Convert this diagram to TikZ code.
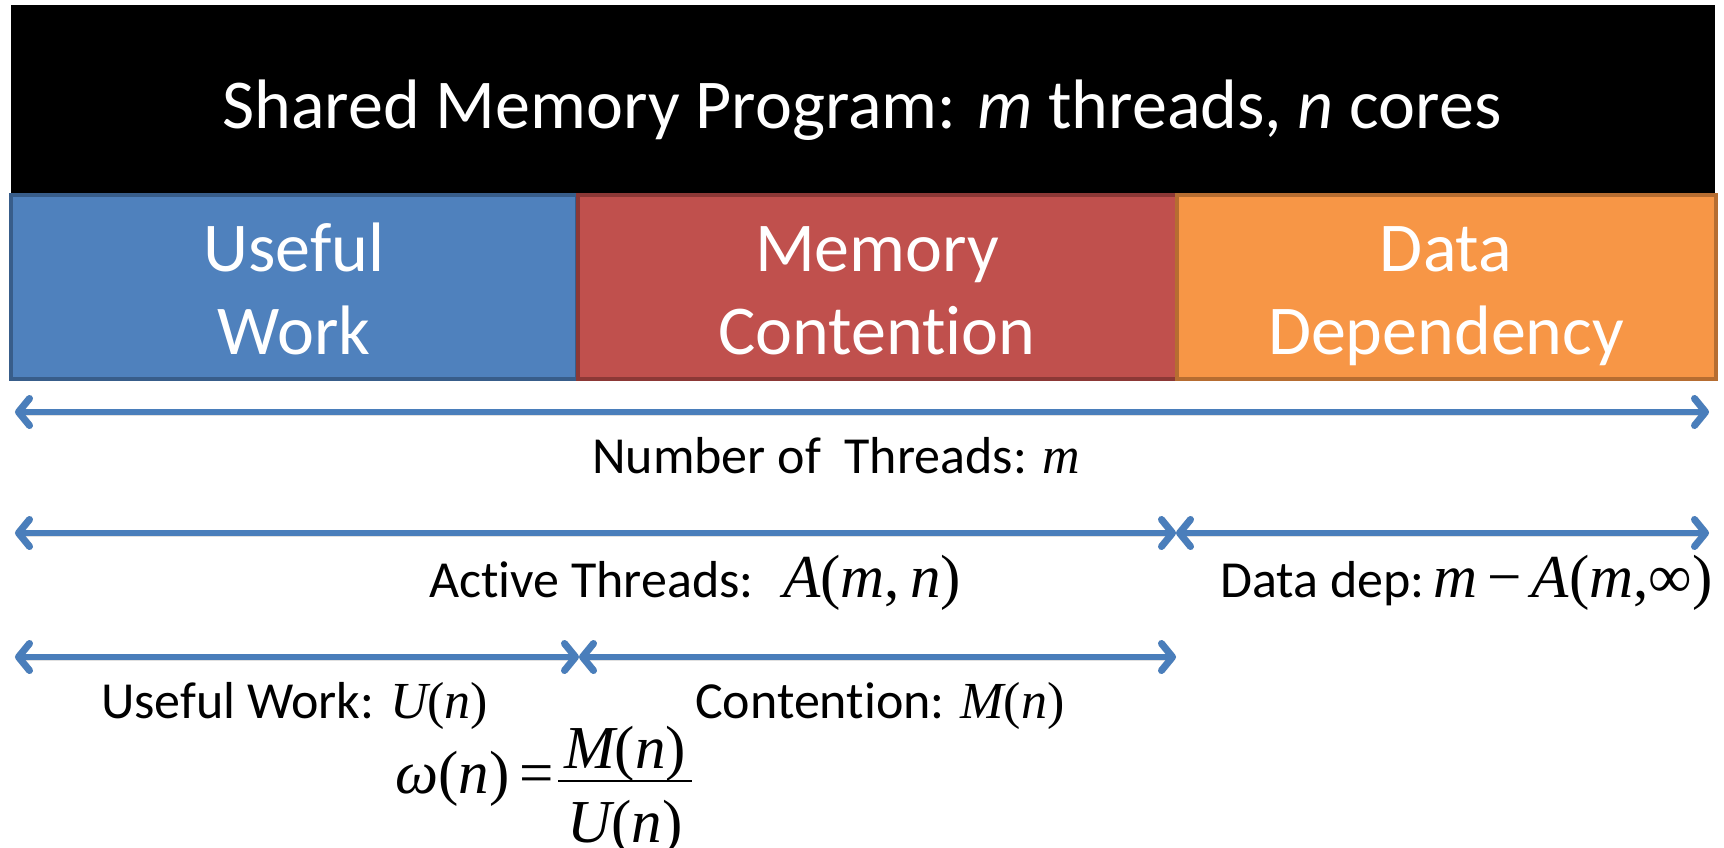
\documentclass[tikz,border=0pt]{standalone}
\usepackage{fontspec}
\setmainfont{Carlito}[Ligatures=CommonOff]
\newfontfamily\tms{Liberation Serif}
\usetikzlibrary{arrows.meta}
\definecolor{wblue}{HTML}{4F81BD}
\definecolor{wblueline}{HTML}{385D8A}
\definecolor{cred}{HTML}{C0504D}
\definecolor{credline}{HTML}{8C3836}
\definecolor{dorange}{HTML}{F79646}
\definecolor{dorangeline}{HTML}{B66D31}
\definecolor{spanblue}{HTML}{4A7EBB}
% italic and upright Times-style symbols for the formulas
\newcommand\vi[1]{{\tms\itshape #1}}
\newcommand\vr[1]{{\tms #1}}
\newcommand\msize{\fontsize{61}{70}\selectfont}
\newcommand\toprow{\rule{0pt}{66pt}}
\newcommand\botrow{\rule[-15pt]{0pt}{15pt}}
\tikzset{
  phase/.style={draw, line width=4pt, minimum height=184pt, align=center,
    text=white, font=\fontsize{70}{83}\selectfont, inner sep=0pt},
  barb/.tip={Straight Barb[length=11pt,width=27pt,line width=7pt,round]},
  span/.style={draw=spanblue, line width=6pt, barb-barb},
  spanshade/.style={draw=black!40, opacity=0.3, line width=7pt, shift={(1.5pt,-4pt)}, barb-barb},
  lbl/.style={anchor=base west, inner sep=0pt, font=\fontsize{52}{60}\selectfont},
  mth/.style={font=\msize}
}
\begin{document}
\begin{tikzpicture}[x=1pt,y=-1pt]
\useasboundingbox (0,0) rectangle (1724,848);
\fill[white] (0,0) rectangle (1724,848);

% title bar
\node[fill=black, minimum width=1704pt, minimum height=190pt, inner sep=0pt,
  anchor=north west] (title) at (11,5) {};
\node[anchor=base, text=white, font=\fontsize{70}{80}\selectfont, inner sep=0pt]
  (titletext) at (862,129) {Shared Memory Program: \textit{m} threads, \textit{n} cores};

% the three phases
\node[phase, fill=wblue, draw=wblueline, minimum width=566pt] (useful) at (294,287)
  {\toprow Useful\\Work\botrow};
\node[phase, fill=cred, draw=credline, minimum width=599pt] (memory) at (877,287)
  {\toprow Memory\\Contention\botrow};
\node[phase, fill=dorange, draw=dorangeline, minimum width=539pt] (data) at (1446,287)
  {\toprow Data\\Dependency\botrow};

% span end points
\coordinate (a1) at (15,412);  \coordinate (b1) at (1709,412);
\coordinate (a2) at (15,533);  \coordinate (m2) at (1176,533); \coordinate (b2) at (1709,533);
\coordinate (a3) at (15,657);  \coordinate (m3) at (579,657);  \coordinate (b3) at (1176,657);

% soft shadows under the spans
\draw[spanshade] (a1) -- (b1);
\draw[spanshade] (a2) -- (m2);
\draw[spanshade] (m2) -- (b2);
\draw[spanshade] (a3) -- (m3);
\draw[spanshade] (m3) -- (b3);

% spans
\draw[span] (a1) -- (b1);
\draw[span] (a2) -- (m2);
\draw[span] (m2) -- (b2);
\draw[span] (a3) -- (m3);
\draw[span] (m3) -- (b3);

% labels
\node[lbl] (lthreads) at (592,473) {Number of \ Threads: \vi{m}};
\node[lbl] (lactive) at (429,597) {Active Threads: {\msize\ \vi{A}\vr{(}\vi{m}\vr{,\,}\vi{n}\vr{)}}};
\node[lbl] (ldata) at (1220,597) {Data dep:\,{\msize\vi{m}\,\vr{−}\,\vi{A}\vr{(}\vi{m}\vr{,∞)}}};
\node[lbl] (luseful) at (101,718) {Useful Work: \vi{U}\vr{(}\vi{n}\vr{)}};
\node[lbl] (lcont) at (695,718) {Contention: \vi{M}\vr{(}\vi{n}\vr{)}};

% omega(n) = M(n)/U(n)
\node[lbl, mth] (omega) at (395,793) {\vi{ω}\vr{(}\vi{n}\vr{)}\vr{\,=}};
\node[anchor=base, inner sep=0pt, mth] (num) at (625,768) {\vi{M}\vr{(}\vi{n}\vr{)}};
\node[anchor=base, inner sep=0pt, mth] (den) at (625,842) {\vi{U}\vr{(}\vi{n}\vr{)}};
\coordinate (barl) at (558,781);
\coordinate (barr) at (692,781);
\draw[line width=2.5pt] (barl) -- (barr);
\end{tikzpicture}
\end{document}
